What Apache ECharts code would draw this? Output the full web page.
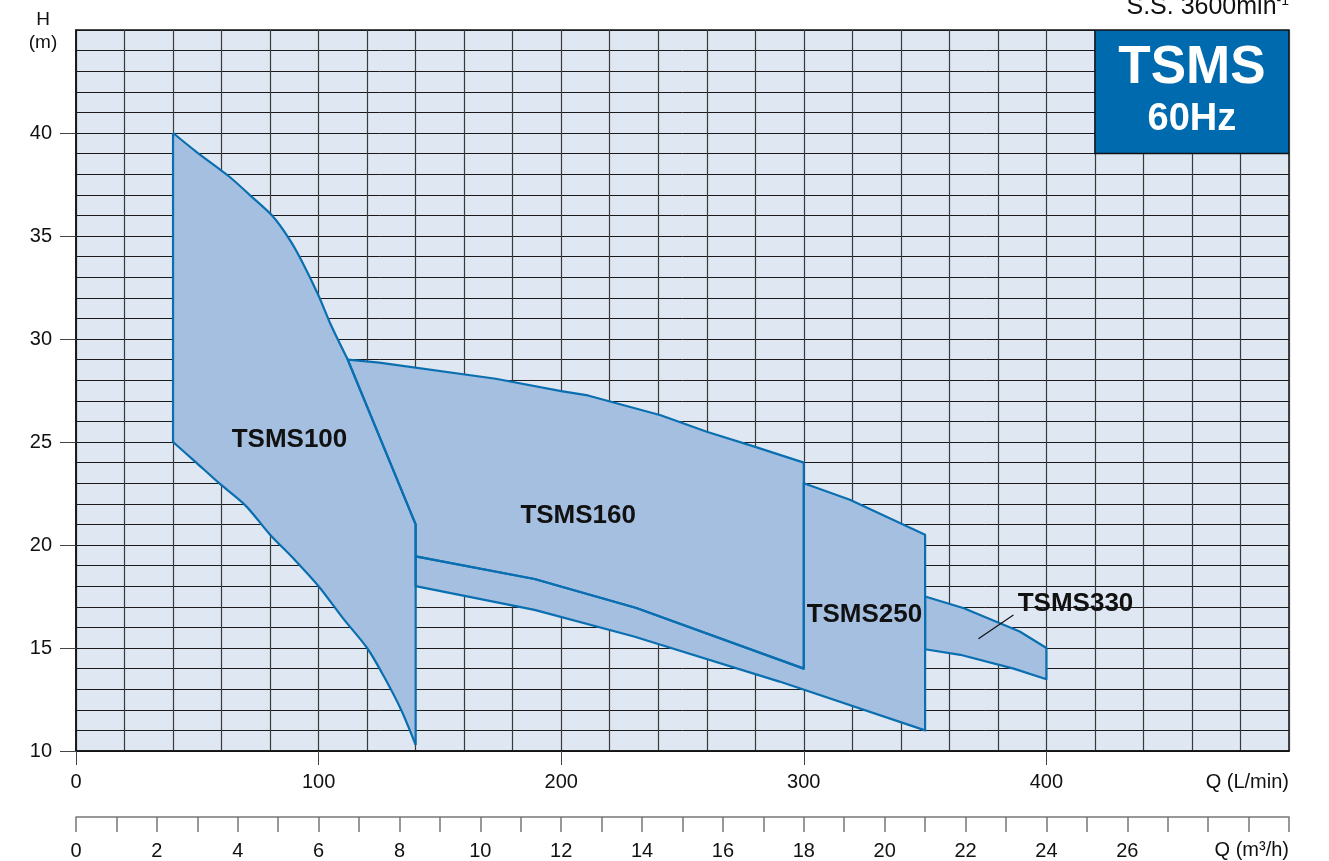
<!DOCTYPE html>
<html>
<head>
<meta charset="utf-8">
<script src="https://cdn.jsdelivr.net/npm/echarts@6/dist/echarts.min.js"></script>
<style>
html,body{margin:0;padding:0;background:#fff;}
#chart{width:1329px;height:861px;}
</style>
</head>
<body>
<div id="chart"></div>
<script>
// ---- data (Q in L/min, H in m) ----
const tsms100Upper = [[40,40],[50,39.05],[63,37.9],[72,36.95],[81,35.97],[88,34.84],[93,33.8],[100,32.1],[105,30.7],[112,29.0],[140,21.0]];
const tsms100Lower = [[40,25],[49,24.06],[59,23.0],[70,21.9],[80,20.5],[90,19.3],[100,18.0],[110,16.45],[120,15.0],[127,13.6],[134,12.0],[140,10.3]];
const tsms160Upper = [[112,29.0],[125,28.85],[173,28.07],[200,27.47],[211,27.26],[241,26.3],[260,25.5],[279,24.8],[300,24.0]];
const tsms160Lower = [[140,19.45],[189,18.35],[231,16.94],[300,14.0]];
const tsms250Upper = [[300,23.0],[319,22.2],[350,20.5]];
const tsms250Lower = [[140,18.0],[189,16.85],[230,15.56],[290,13.37],[350,11.0]];
const tsms330Upper = [[350,17.5],[366,16.93],[389,15.8],[400,15.0]];
const tsms330Lower = [[350,14.94],[364.5,14.67],[386.5,14.0],[400,13.48]];
const labelNames = ['TSMS100','TSMS160','TSMS250','TSMS330'];
const labelAnchors = [[88,25.1],[207,21.4],[325,16.6],[412,17.15]];
const leader330 = [[372,15.45],[386.4,16.6]];
const qTicks = [0,100,200,300,400];
const hTicks = [10,15,20,25,30,35,40];
const m3hTicks = [0,2,4,6,8,10,12,14,16,18,20,22,24,26];
const badgeRange = [[420,45],[500,39]];

const FILL = '#a4bfe0';
const STROKE = '#0a6fb0';
const FONT = '"Liberation Sans", Arial, Helvetica, sans-serif';

const chart = echarts.init(document.getElementById('chart'), null, {renderer:'canvas'});

function rev(a){ return a.slice().reverse(); }

const option = {
  animation: false,
  grid: [
    {left:76, top:30, width:1213, height:721, show:true, backgroundColor:'#dfe7f2', borderColor:'#111', borderWidth:1.5},
    {left:76, top:816, width:1213, height:1, show:false}
  ],
  xAxis: [
    {
      type:'value', gridIndex:0, min:0, max:500, interval:20,
      axisLine:{show:true, onZero:false, lineStyle:{color:'#111', width:1.5}},
      splitLine:{show:false},
      axisTick:{show:true, customValues:qTicks, length:14, lineStyle:{color:'#444', width:1}},
      axisLabel:{show:true, customValues:qTicks, margin:21, fontSize:20, color:'#111', fontFamily:FONT},
      name:'Q (L/min)', nameLocation:'end', nameGap:0,
      nameTextStyle:{align:'right', verticalAlign:'top', padding:[21,0,0,0], fontSize:20, color:'#111', fontFamily:FONT}
    },
    {
      type:'value', gridIndex:1, min:0, max:30, interval:1, position:'bottom',
      axisLine:{show:true, onZero:false, lineStyle:{color:'#777', width:1.5}},
      splitLine:{show:false},
      axisTick:{show:true, length:15, lineStyle:{color:'#777', width:1.5}},
      axisLabel:{show:true, customValues:m3hTicks, margin:24, fontSize:20, color:'#111', fontFamily:FONT},
      name:'Q (m³/h)', nameLocation:'end', nameGap:0,
      nameTextStyle:{align:'right', verticalAlign:'top', padding:[23,0,0,0], fontSize:20, color:'#111', fontFamily:FONT}
    },
    {
      type:'value', gridIndex:0, min:0, max:500, interval:20,
      axisLine:{show:false}, axisTick:{show:false}, axisLabel:{show:false},
      splitLine:{show:true, lineStyle:{color:'#3a3a3a', width:1.2}}
    }
  ],
  yAxis: [
    {
      type:'value', gridIndex:0, min:10, max:45, interval:1,
      axisLine:{show:true, onZero:false, lineStyle:{color:'#111', width:1.5}},
      splitLine:{show:false},
      axisTick:{show:true, customValues:hTicks, length:16, lineStyle:{color:'#444', width:1}},
      axisLabel:{show:true, customValues:hTicks, margin:24, fontSize:20, color:'#111', fontFamily:FONT}
    },
    {type:'value', gridIndex:1, min:0, max:1, show:false},
    {
      type:'value', gridIndex:0, min:10, max:45, interval:1,
      axisLine:{show:false}, axisTick:{show:false}, axisLabel:{show:false},
      splitLine:{show:true, lineStyle:{color:'#1a1a1a', width:1}}
    }
  ],
  graphic: [
    {type:'text', x:43, y:8, style:{text:'H\n(m)', fill:'#111', font:'19px '+FONT, textAlign:'center', lineHeight:23}},
    {type:'text', x:1289, y:-6, style:{
      text:'{a|S.S. 3600min}{b|-1}', textAlign:'right',
      rich:{a:{fontSize:25, fontFamily:FONT, fill:'#111', verticalAlign:'bottom', lineHeight:26},
            b:{fontSize:14, fontFamily:FONT, fill:'#111', verticalAlign:'top', padding:[0,0,10,0], lineHeight:26}}
    }}
  ],
  series: [
    {
      type:'custom', xAxisIndex:0, yAxisIndex:0, data:[0], clip:true,
      renderItem: function(params, api){
        const c = p => api.coord(p);
        const polys = [
          [...tsms100Upper, ...rev(tsms100Lower)],
          [...tsms160Upper, ...rev(tsms160Lower), [140,21]],
          [...tsms160Lower, ...tsms250Upper, ...rev(tsms250Lower)],
          [...tsms330Upper, ...rev(tsms330Lower)]
        ];
        const children = [];
        polys.forEach(pl => children.push({type:'polygon', shape:{points:pl.map(c)}, style:{fill:FILL, stroke:null}}));
        // outlines
        polys.slice(1).forEach(pl => children.push({type:'polygon', shape:{points:pl.map(c)}, style:{fill:null, stroke:STROKE, lineWidth:2.2, lineJoin:'round'}}));
        const curveStyle = {fill:null, stroke:STROKE, lineWidth:2.2, lineJoin:'round'};
        children.push({type:'polyline', shape:{points:tsms100Upper.slice(0,10).map(c), smooth:0.3}, style:curveStyle});
        children.push({type:'polyline', shape:{points:tsms100Upper.slice(9).map(c)}, style:curveStyle});
        children.push({type:'polyline', shape:{points:tsms100Lower.map(c), smooth:0.3}, style:curveStyle});
        children.push({type:'polyline', shape:{points:[tsms100Lower[0], tsms100Upper[0]].map(c)}, style:curveStyle});
        children.push({type:'polyline', shape:{points:[tsms100Upper[tsms100Upper.length-1], tsms100Lower[tsms100Lower.length-1]].map(c)}, style:curveStyle});
        children.push({type:'polyline', shape:{points:leader330.map(c)}, style:{stroke:'#111', lineWidth:1.2}});
        labelNames.forEach((n,i) => {
          const p = c(labelAnchors[i]);
          children.push({type:'text', x:p[0], y:p[1], style:{text:n, fill:'#111', font:'bold 26px '+FONT, textAlign:'center', textVerticalAlign:'middle'}});
        });
        const b0 = c(badgeRange[0]), b1 = c(badgeRange[1]);
        children.push({type:'rect', shape:{x:b0[0], y:b0[1], width:b1[0]-b0[0], height:b1[1]-b0[1]}, style:{fill:'#006aae', stroke:'#111', lineWidth:1.5}});
        const cx = (b0[0]+b1[0])/2;
        children.push({type:'text', x:cx, y:b0[1]+38, style:{text:'TSMS', fill:'#fff', font:'bold 53px '+FONT, textAlign:'center', textVerticalAlign:'middle'}});
        children.push({type:'text', x:cx, y:b0[1]+90, style:{text:'60Hz', fill:'#fff', font:'bold 38px '+FONT, textAlign:'center', textVerticalAlign:'middle'}});
        return {type:'group', children:children};
      }
    }
  ]
};
chart.setOption(option);
</script>
</body>
</html>
